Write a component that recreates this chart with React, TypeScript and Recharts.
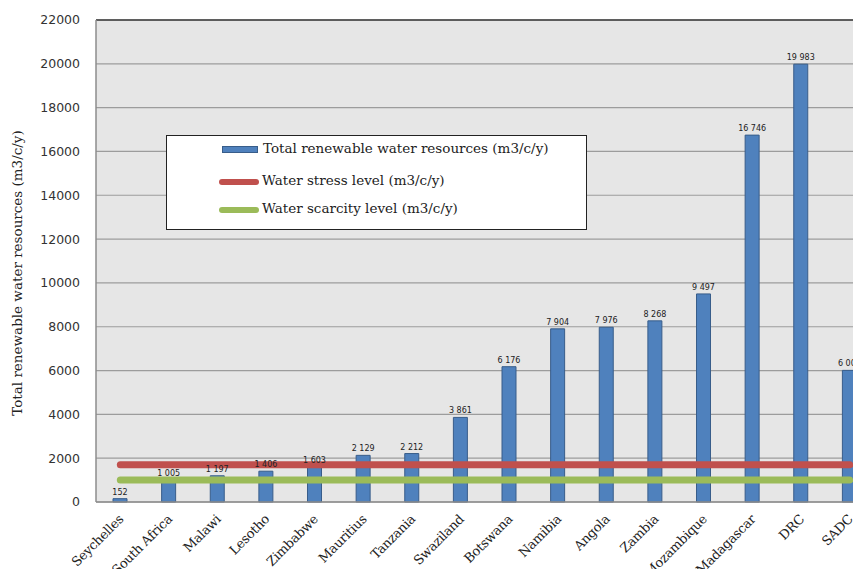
import {
  ComposedChart,
  Bar,
  Line,
  XAxis,
  YAxis,
  CartesianGrid,
  Legend,
  LabelList,
  ReferenceLine,
} from "recharts";

const countries = [
  "Seychelles",
  "South Africa",
  "Malawi",
  "Lesotho",
  "Zimbabwe",
  "Mauritius",
  "Tanzania",
  "Swaziland",
  "Botswana",
  "Namibia",
  "Angola",
  "Zambia",
  "Mozambique",
  "Madagascar",
  "DRC",
  "SADC",
];
const totalResources = [
  152, 1005, 1197, 1406, 1603, 2129, 2212, 3861, 6176, 7904, 7976, 8268, 9497, 16746, 19983, 6008,
];
const stressLevel = 1700;
const scarcityLevel = 1000;
const yTicks = [0, 2000, 4000, 6000, 8000, 10000, 12000, 14000, 16000, 18000, 20000, 22000];

const SERIF = "'DejaVu Serif', serif";
const SANS = "'DejaVu Sans', sans-serif";

const BLUE = "#4F81BD";
const RED = "#C0504D";
const GREEN = "#9BBB59";

const data = countries.map((name, i) => ({
  name,
  total: totalResources[i],
  stress: stressLevel,
  scarcity: scarcityLevel,
}));

// thousands with a space, e.g. 19 983
const fmt = (v: number) => String(v).replace(/\B(?=(\d{3})+(?!\d))/g, " ");

const CountryTick = ({ x, y, payload }: any) => (
  <text
    x={x + 4}
    y={y + 10}
    transform={`rotate(-45, ${x + 4}, ${y + 10})`}
    textAnchor="end"
    fontFamily={SERIF}
    fontSize={13}
    letterSpacing={-0.3}
    fill="#222"
  >
    {payload.value}
  </text>
);

const ValueLabel = ({ x, y, width, value }: any) => (
  <text
    x={x + width / 2}
    y={y - 4}
    textAnchor="middle"
    fontFamily={SANS}
    fontSize={8}
    fill="#222"
  >
    {fmt(value)}
  </text>
);

const LegendBox = () => (
  <div
    style={{
      width: 421,
      height: 95,
      boxSizing: "border-box",
      background: "#fff",
      border: "1px solid #222",
      fontFamily: SERIF,
      fontSize: 13.5,
      color: "#222",
      position: "relative",
      whiteSpace: "nowrap",
    }}
  >
    <div style={{ position: "absolute", left: 55, top: 10, width: 36, height: 7, background: BLUE, border: "1px solid #385D8A", boxSizing: "border-box" }} />
    <div style={{ position: "absolute", left: 96, top: 4 }}>Total renewable water resources (m3/c/y)</div>
    <div style={{ position: "absolute", left: 52, top: 43, width: 40, height: 6, borderRadius: 3, background: RED }} />
    <div style={{ position: "absolute", left: 95, top: 36 }}>Water stress level (m3/c/y)</div>
    <div style={{ position: "absolute", left: 52, top: 71, width: 40, height: 6, borderRadius: 3, background: GREEN }} />
    <div style={{ position: "absolute", left: 95, top: 64 }}>Water scarcity level (m3/c/y)</div>
  </div>
);

export default function App() {
  return (
    <div style={{ margin: -8, width: 861, height: 577, overflow: "hidden", background: "#fff" }}>
      <ComposedChart
        width={876}
        height={577}
        data={data}
        margin={{ top: 20, right: 2, bottom: 0, left: 0 }}
        barCategoryGap={0}
      >
        <CartesianGrid vertical={false} stroke="#9C9C9C" strokeWidth={1.2} fill="#E6E6E6" />
        <XAxis
          dataKey="name"
          interval={0}
          height={75}
          tick={<CountryTick />}
          tickLine={false}
          axisLine={{ stroke: "#8C8C8C", strokeWidth: 1.5 }}
        />
        <YAxis
          width={96}
          domain={[0, 22000]}
          ticks={yTicks}
          interval={0}
          tickLine={false}
          axisLine={{ stroke: "#8C8C8C", strokeWidth: 1.5 }}
          tickMargin={10}
          tick={{ fontFamily: SANS, fontSize: 12.5, fill: "#333" }}
          label={{
            value: "Total renewable water resources (m3/c/y)",
            angle: -90,
            position: "insideLeft",
            dx: 12,
            dy: 12,
            style: { fontFamily: SERIF, fontSize: 13.5, fill: "#222", textAnchor: "middle" },
          }}
        />
        <ReferenceLine y={22000} stroke="#3A3A3A" strokeWidth={1.5} />
        <Bar
          dataKey="total"
          name="Total renewable water resources (m3/c/y)"
          barSize={14}
          fill={BLUE}
          stroke="#385D8A"
          strokeWidth={1}
          isAnimationActive={false}
        >
          <LabelList dataKey="total" content={<ValueLabel />} />
        </Bar>
        <Line
          dataKey="stress"
          name="Water stress level (m3/c/y)"
          stroke={RED}
          strokeWidth={7}
          strokeLinecap="round"
          dot={false}
          activeDot={false}
          isAnimationActive={false}
        />
        <Line
          dataKey="scarcity"
          name="Water scarcity level (m3/c/y)"
          stroke={GREEN}
          strokeWidth={7}
          strokeLinecap="round"
          dot={false}
          activeDot={false}
          isAnimationActive={false}
        />
        {/* middle/center alignment keeps the legend from shrinking the plot */}
        <Legend
          layout="horizontal"
          verticalAlign="middle"
          align="center"
          content={<LegendBox />}
          wrapperStyle={{ position: "absolute", left: 166, top: 135, width: 421, height: 95 }}
        />
      </ComposedChart>
    </div>
  );
}
